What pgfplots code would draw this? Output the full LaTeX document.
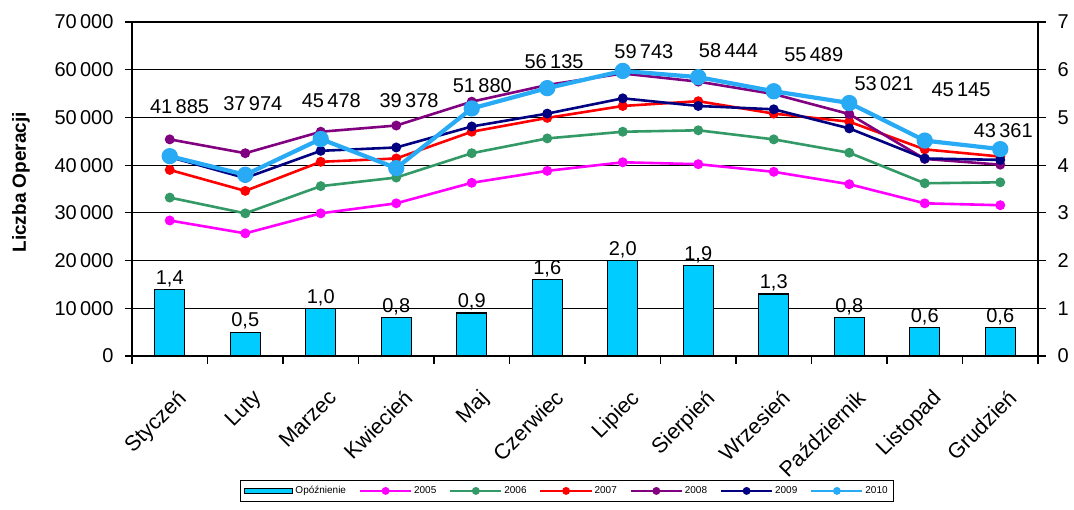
\documentclass[border=0pt]{standalone}
\usepackage{pgfplots}
\pgfplotsset{compat=1.18}
\usepackage{fontspec}
\setmainfont{Liberation Sans}
\definecolor{barc}{RGB}{0,204,255}
\definecolor{c05}{RGB}{255,0,255}
\definecolor{c06}{RGB}{51,153,102}
\definecolor{c07}{RGB}{255,0,0}
\definecolor{c08}{RGB}{128,0,128}
\definecolor{c09}{RGB}{0,0,128}
\definecolor{c10}{RGB}{40,170,245}
\newcommand{\bigf}{\fontsize{20}{23}\selectfont}
\pgfplotsset{
  /pgf/number format/assume math mode=true,
  ln/.style={line width=2.6pt, mark=*, mark size=3.6pt, mark options={solid},
    legend image code/.code={\draw[mark repeat=2,mark phase=2] plot coordinates {(0cm,0cm)(0.9cm,0cm)(1.8cm,0cm)};},
    legend image post style={line width=1.8pt, mark size=3pt}},
}
\pgfplotstableread{
x y05 y06 y07 y08 y09 y10
0 28400 33200 39000 45400 41700 41885
1 25700 29900 34600 42500 37300 37974
2 29900 35600 40700 47000 43000 45478
3 32000 37400 41400 48300 43700 39378
4 36300 42500 47000 53300 48100 51880
5 38800 45600 49900 56800 50800 56135
6 40600 47000 52400 59200 54000 59743
7 40200 47300 53400 57500 52400 58444
8 38600 45400 50800 54900 51700 55489
9 36000 42600 49100 50700 47700 53021
10 32000 36200 43300 41300 41400 45145
11 31600 36400 41800 40100 41100 43361
}\lines
\pgfplotstableread{
x d
0 1.4
1 0.5
2 1.0
3 0.8
4 0.9
5 1.6
6 2.0
7 1.9
8 1.3
9 0.8
10 0.6
11 0.6
}\bars
\begin{document}
\begin{tikzpicture}
\begin{axis}[
  scale only axis, width=906pt, height=334pt,
  xmin=-0.5, xmax=11.5, ymin=0, ymax=70000,
  scaled y ticks=false,
  axis line style={line width=1.2pt},
  every tick/.style={black, line width=1.2pt},
  tick align=outside, major tick length=7pt, minor tick length=8pt,
  ytick={0,10000,...,70000},
  yticklabels={0,10\,000,20\,000,30\,000,40\,000,50\,000,60\,000,70\,000},
  ytick pos=left, xtick pos=bottom,
  ymajorgrids, grid style={black, line width=1.2pt},
  xtick={0,...,11},
  xticklabels={Styczeń,Luty,Marzec,Kwiecień,Maj,Czerwiec,Lipiec,Sierpień,Wrzesień,Październik,Listopad,Grudzień},
  major x tick style={draw=none},
  minor xtick={-0.5,0.5,...,11.5},
  x tick label style={rotate=45, anchor=north east, font=\fontsize{21.5}{24}\selectfont, xshift=-10pt, yshift=-19pt},
  y tick label style={font=\bigf, xshift=-8pt},
  ylabel={\textbf{Liczba Operacji}},
  every axis y label/.style={at={([xshift=-111pt]rel axis cs:0,0.52)}, rotate=90, anchor=center, font=\fontsize{19}{22}\selectfont},
  legend columns=7,
  legend style={at={(0.48,0)}, anchor=north, yshift=-124pt, font=\fontsize{10}{11}\selectfont,
    draw=black, line width=1pt, inner sep=4pt,
    /tikz/every even column/.append style={column sep=11pt}},
]
\addlegendimage{legend image code/.code={\draw[fill=barc, draw=black, line width=1pt] (0cm,-0.1cm) rectangle (1.7cm,0.1cm);}}
\addlegendentry{Opóźnienie}
\addplot[ln, color=c05] table[x=x, y=y05] {\lines}; \addlegendentry{2005}
\addplot[ln, color=c06] table[x=x, y=y06] {\lines}; \addlegendentry{2006}
\addplot[ln, color=c07] table[x=x, y=y07] {\lines}; \addlegendentry{2007}
\addplot[ln, color=c08] table[x=x, y=y08] {\lines}; \addlegendentry{2008}
\addplot[ln, color=c09] table[x=x, y=y09] {\lines}; \addlegendentry{2009}
\addplot[ln, color=c10, line width=4.2pt, mark size=6pt] table[x=x, y=y10] {\lines}; \addlegendentry{2010}
\addplot[draw=none, mark=none, forget plot, nodes near coords, point meta=explicit symbolic,
  nodes near coords align={center}, every node near coord/.append style={font=\bigf, inner sep=0pt}]
  coordinates {
  (0.13,52200) [41\,885]
  (1.10,52800) [37\,974]
  (2.14,53600) [45\,478]
  (3.17,53600) [39\,378]
  (4.14,56600) [51\,880]
  (5.09,61600) [56\,135]
  (6.28,63700) [59\,743]
  (7.40,64100) [58\,444]
  (8.53,63100) [55\,489]
  (9.46,57000) [53\,021]
  (10.48,55900) [45\,145]
  (11.04,47200) [43\,361]
  };
\end{axis}
\begin{axis}[
  scale only axis, width=906pt, height=334pt,
  xmin=-0.5, xmax=11.5, ymin=0, ymax=7,
  axis x line=none, axis y line*=right,
  axis line style={line width=1.2pt},
  every tick/.style={black, line width=1.2pt},
  tick align=outside, major tick length=8pt,
  ytick={0,...,7},
  y tick label style={font=\bigf, xshift=8pt},
  ybar, bar width=30pt,
  nodes near coords={\pgfmathprintnumber[fixed,fixed zerofill,precision=1,use comma]{\pgfplotspointmeta}},
  every node near coord/.append style={font=\bigf, inner sep=2pt},
]
\addplot[fill=barc, draw=black, line width=1.2pt] table[x=x, y=d] {\bars};
\coordinate (sw) at (rel axis cs:0,0);
\end{axis}
\pgfresetboundingbox
\path (sw) ++(-132pt,-154pt) rectangle ++(1074pt,510pt);
\end{tikzpicture}
\end{document}
